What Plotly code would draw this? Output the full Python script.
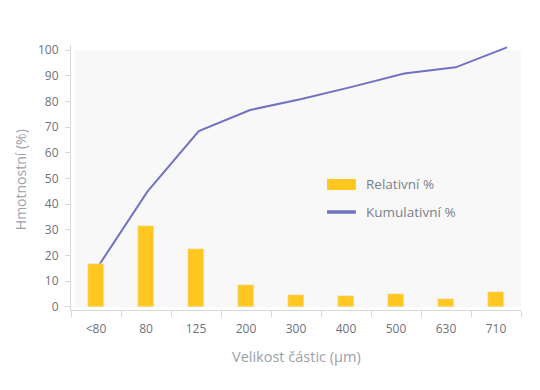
import plotly.graph_objects as go

categories = ["<80", "80", "125", "200", "300", "400", "500", "630", "710"]
relative = [16.6, 31.5, 22.5, 8.5, 4.6, 4.2, 5.0, 3.1, 5.8]
cumulative = [14.5, 44.9, 68.5, 76.7, 81.0, 85.8, 90.9, 93.3, 101.1]
y_ticks = [0, 10, 20, 30, 40, 50, 60, 70, 80, 90, 100]

BAR = "#FFC720"
LINE = "#7272C2"
TICK = "#6B7280"
TITLE = "#9CA1AA"
FONT = "Open Sans, Noto Sans, sans-serif"

fig = go.Figure()
# cumulative line on its own (hidden) category scale, drawn beneath the bars
fig.add_trace(go.Scatter(x=categories, y=cumulative, name="Kumulativní %", mode="lines",
                         line=dict(color=LINE, width=2), showlegend=False, xaxis="x", yaxis="y"))
fig.add_trace(go.Bar(x=categories, y=relative, name="Relativní %", marker_color=BAR,
                     width=0.32, showlegend=False, xaxis="x2", yaxis="y"))

# light grey plotting panel
fig.add_shape(type="rect", xref="x2", yref="y", x0=-0.42, x1=8.5, y0=0, y1=100,
              fillcolor="#F8F8F8", line_width=0, layer="below")

# custom legend
fig.add_shape(type="rect", xref="paper", yref="paper", x0=0.569, x1=0.633, y0=0.4528, y1=0.4943,
              fillcolor=BAR, line_width=0)
fig.add_shape(type="line", xref="paper", yref="paper", x0=0.569, x1=0.633, y0=0.3698, y1=0.3698,
              line=dict(color=LINE, width=3.5))
for txt, yy in [("Relativní %", 0.4755), ("Kumulativní %", 0.3698)]:
    fig.add_annotation(text=txt, xref="paper", yref="paper", x=0.651, y=yy, xanchor="left",
                       yanchor="middle", showarrow=False, font=dict(size=13.5, color="#7A808A", family=FONT))

fig.add_annotation(text="Hmotnostní (%)", xref="paper", yref="paper", x=-0.1133, y=0.49,
                   textangle=-90, showarrow=False, xanchor="center", yanchor="middle",
                   font=dict(size=14, color=TITLE, family=FONT))
fig.add_annotation(text="Velikost částic (µm)", xref="paper", yref="paper", x=0.5, y=-0.177,
                   showarrow=False, xanchor="center", yanchor="middle",
                   font=dict(size=14.5, color=TITLE, family=FONT))

fig.update_layout(
    width=540, height=390,
    margin=dict(l=63, r=27, t=37, b=88),
    paper_bgcolor="white", plot_bgcolor="white",
    font=dict(family=FONT, color=TICK, size=12),
    bargap=0,
    xaxis=dict(type="category", range=[-0.4866, 8.2725], visible=False),
    xaxis2=dict(type="category", overlaying="x", anchor="y", side="bottom", range=[-0.5, 8.5],
                showgrid=False, showline=True, linecolor="#D9D9D9", linewidth=1, ticks="outside",
                tickson="boundaries", ticklen=6, tickcolor="#D9D9D9",
                tickfont=dict(size=12, color=TICK), zeroline=False, ticklabelstandoff=8),
    yaxis=dict(range=[-1.2, 102], tickvals=y_ticks, showgrid=False, showline=True,
               linecolor="#D9D9D9", linewidth=1, ticks="outside", ticklen=5, tickcolor="#D9D9D9",
               tickfont=dict(size=12, color=TICK), zeroline=False, ticklabelstandoff=4),
)

fig.write_html("out.html")
